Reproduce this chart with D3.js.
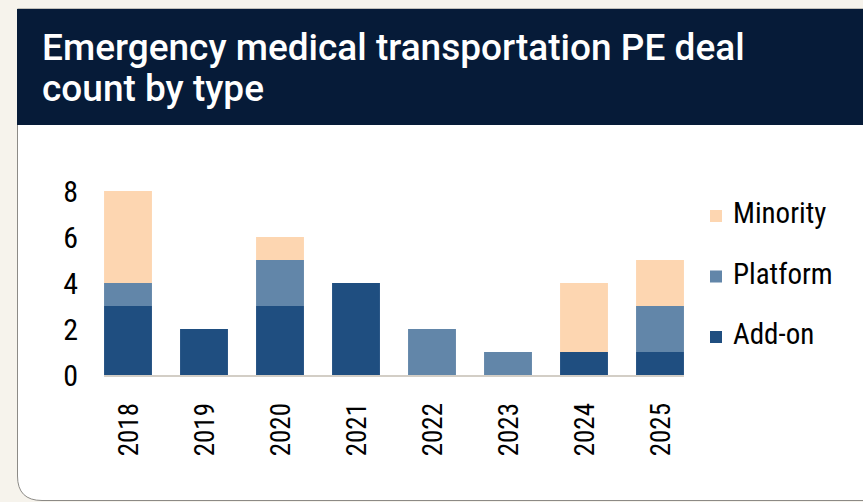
<!DOCTYPE html>
<meta charset='utf-8'>
<style>
    body { margin: 0; background: #f6f3ec; }
    svg { display: block; }
</style>
<body>
    <script src='https://d3js.org/d3.v7.min.js'></script>
    <script>
        var width = 863,
            height = 502;

        // chart data
        var years = ['2018', '2019', '2020', '2021', '2022', '2023', '2024', '2025'];
        var addOn = [3, 2, 3, 4, 0, 0, 1, 1];
        var platform = [1, 0, 2, 0, 2, 1, 0, 2];
        var minority = [4, 0, 1, 0, 0, 0, 3, 2];
        var seriesNames = ['Add-on', 'Platform', 'Minority'];
        var seriesColors = ['#1f4e80', '#6286a9', '#fdd6b1'];
        var yTicks = [0, 2, 4, 6, 8];

        var rows = years.map(function(y, i) {
            return { year: y, 'Add-on': addOn[i], 'Platform': platform[i], 'Minority': minority[i] };
        });

        var condensed = '"Roboto Condensed", "Liberation Sans Narrow", sans-serif';

        var svg = d3.select('body').append('svg')
            .attr('width', width)
            .attr('height', height);

        // card
        svg.append('path')
            .attr('d', 'M17.5,9 L880,9 L880,500.5 L42,500.5 Q17.5,500.5 17.5,476 Z')
            .attr('fill', '#fff')
            .attr('stroke', '#8c8a86')
            .attr('stroke-width', 1);

        svg.append('rect')
            .attr('x', 17).attr('y', 9)
            .attr('width', width - 17).attr('height', 116)
            .attr('fill', '#061b38');

        var title = svg.append('text')
            .attr('fill', '#fff')
            .style('font-family', 'Roboto, sans-serif')
            .style('font-weight', 500)
            .style('font-size', '37px');
        title.append('tspan').attr('x', 42).attr('y', 60).text('Emergency medical transportation PE deal');
        title.append('tspan').attr('x', 42).attr('y', 101).text('count by type');

        var x = d3.scaleBand().domain(years).range([90, 698]).paddingInner(0.37).paddingOuter(0.185);
        var y = d3.scaleLinear().domain([0, 8]).range([375, 191]);

        var layers = d3.stack().keys(seriesNames)(rows);

        svg.selectAll('g.layer').data(layers).enter().append('g')
            .attr('class', 'layer')
            .attr('fill', function(d, i) { return seriesColors[i]; })
            .selectAll('rect').data(function(d) { return d; }).enter().append('rect')
            .attr('x', function(d) { return x(d.data.year); })
            .attr('width', x.bandwidth())
            .attr('y', function(d) { return y(d[1]); })
            .attr('height', function(d) { return y(d[0]) - y(d[1]); });

        // baseline
        svg.append('line')
            .attr('x1', x(years[0])).attr('x2', x(years[years.length - 1]) + x.bandwidth())
            .attr('y1', y(0) + 1).attr('y2', y(0) + 1)
            .attr('stroke', '#d3cec6').attr('stroke-width', 2);

        // y axis labels
        svg.selectAll('text.ytick').data(yTicks).enter().append('text')
            .attr('class', 'ytick')
            .attr('x', 78)
            .attr('y', function(d) { return y(d); })
            .attr('dy', '0.36em')
            .attr('text-anchor', 'end')
            .style('font-family', condensed)
            .style('font-size', '30px')
            .attr('fill', '#000')
            .text(function(d) { return d; });

        // x axis labels, rotated
        svg.selectAll('text.xtick').data(years).enter().append('text')
            .attr('class', 'xtick')
            .attr('transform', function(d) {
                return 'translate(' + (x(d) + x.bandwidth() / 2) + ',403) rotate(-90)';
            })
            .attr('dy', '0.36em')
            .attr('text-anchor', 'end')
            .style('font-family', condensed)
            .style('font-size', '27px')
            .attr('fill', '#000')
            .text(function(d) { return d; });

        // legend
        var legendOrder = ['Minority', 'Platform', 'Add-on'];
        var leg = svg.selectAll('g.leg').data(legendOrder).enter().append('g')
            .attr('class', 'leg')
            .attr('transform', function(d, i) { return 'translate(710,' + (216 + i * 60.5) + ')'; });
        leg.append('rect')
            .attr('x', 0).attr('y', -6)
            .attr('width', 12).attr('height', 12)
            .attr('fill', function(d) { return seriesColors[seriesNames.indexOf(d)]; });
        leg.append('text')
            .attr('x', 23).attr('y', 7)
            .style('font-family', condensed)
            .style('font-size', '29px')
            .attr('fill', '#000')
            .text(function(d) { return d; });
   </script>
</body>
